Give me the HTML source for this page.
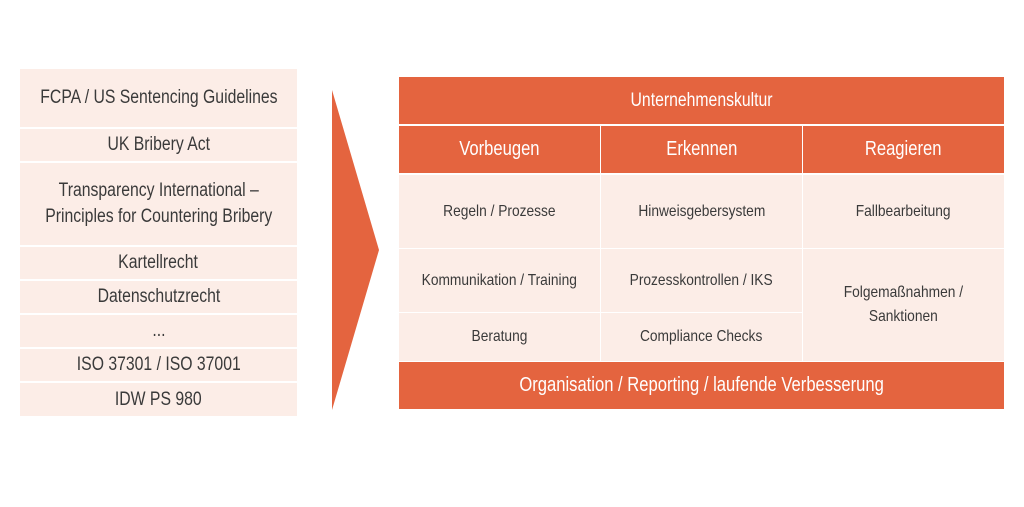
<!DOCTYPE html>
<html><head><meta charset="utf-8"><style>
body{margin:0;width:1024px;height:507px;background:#fff;position:relative;overflow:hidden;font-family:"Liberation Sans",sans-serif;}
.b{position:absolute;display:flex;align-items:center;justify-content:center;text-align:center;box-sizing:border-box;}
.b span{display:inline-block;transform:scaleX(0.83);white-space:nowrap;}
.l{background:#fcede7;color:#3a3a3a;font-size:19px;line-height:26px;left:20px;width:277px;}
.o{background:#e4643f;color:#fff;font-size:19px;}
.c{background:#fcede7;color:#3a3a3a;font-size:16px;line-height:24px;}
.c span{transform:scaleX(0.86);}
</style></head><body>
<div class="b l" style="top:69px;height:58px"><span>FCPA / US Sentencing Guidelines</span></div>
<div class="b l" style="top:129px;height:32px"><span>UK Bribery Act</span></div>
<div class="b l" style="top:163px;height:82px"><span>Transparency International –<br>Principles for Countering Bribery</span></div>
<div class="b l" style="top:247px;height:32px"><span>Kartellrecht</span></div>
<div class="b l" style="top:281px;height:32px"><span>Datenschutzrecht</span></div>
<div class="b l" style="top:315px;height:32px"><span>...</span></div>
<div class="b l" style="top:349px;height:32px"><span>ISO 37301 / ISO 37001</span></div>
<div class="b l" style="top:383px;height:33px"><span>IDW PS 980</span></div>
<svg style="position:absolute;left:0;top:0" width="1024" height="507"><polygon points="332,90 379,250 332,410" fill="#e4643f"/></svg>
<div class="b o" style="left:399px;top:77px;width:605px;height:47px"><span>Unternehmenskultur</span></div>
<div class="b o" style="left:399px;top:126px;width:201px;height:47px;font-size:20px"><span>Vorbeugen</span></div>
<div class="b o" style="left:601px;top:126px;width:201px;height:47px;font-size:20px"><span>Erkennen</span></div>
<div class="b o" style="left:803px;top:126px;width:201px;height:47px;font-size:20px"><span>Reagieren</span></div>
<div class="b c" style="left:399px;top:175px;width:201px;height:73px"><span>Regeln / Prozesse</span></div>
<div class="b c" style="left:601px;top:175px;width:201px;height:73px"><span>Hinweisgebersystem</span></div>
<div class="b c" style="left:803px;top:175px;width:201px;height:73px"><span>Fallbearbeitung</span></div>
<div class="b c" style="left:399px;top:249px;width:201px;height:63px"><span>Kommunikation / Training</span></div>
<div class="b c" style="left:601px;top:249px;width:201px;height:63px"><span>Prozesskontrollen / IKS</span></div>
<div class="b c" style="left:803px;top:249px;width:201px;height:112px"><span>Folgemaßnahmen /<br>Sanktionen</span></div>
<div class="b c" style="left:399px;top:313px;width:201px;height:48px"><span>Beratung</span></div>
<div class="b c" style="left:601px;top:313px;width:201px;height:48px"><span>Compliance Checks</span></div>
<div class="b o" style="left:399px;top:362px;width:605px;height:47px;font-size:20px"><span>Organisation / Reporting / laufende Verbesserung</span></div>
</body></html>
